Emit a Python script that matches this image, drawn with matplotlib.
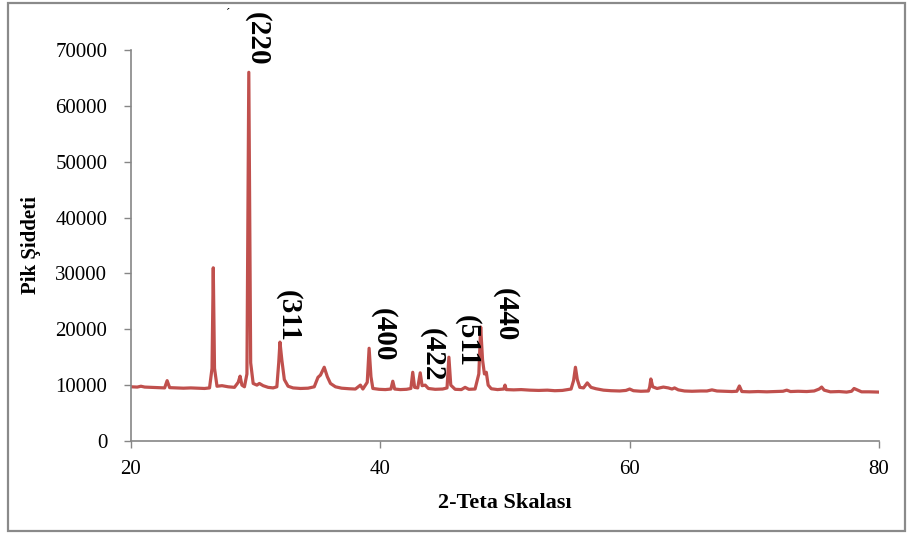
import matplotlib
matplotlib.use("Agg")
import matplotlib.pyplot as plt
from matplotlib.patches import Rectangle

# 2-theta scan (deg) and intensity
two_theta = [
    20.0, 20.5, 20.8, 21.1, 21.6, 22.2, 22.7, 22.9, 23.1, 23.6, 24.2, 24.8,
    25.3, 25.9, 26.3, 26.5, 26.6, 26.7, 26.9, 27.3, 27.8, 28.3, 28.6, 28.75,
    28.9, 29.1, 29.3, 29.45, 29.6, 29.8, 30.1, 30.3, 30.6, 31.0, 31.4, 31.7,
    31.85, 31.95, 32.1, 32.3, 32.6, 33.0, 33.6, 34.2, 34.7, 35.0, 35.2, 35.5,
    35.75, 36.0, 36.4, 36.9, 37.5, 38.0, 38.4, 38.6, 38.95, 39.1, 39.25, 39.4,
    39.9, 40.4, 40.85, 41.0, 41.15, 41.6, 42.1, 42.45, 42.6, 42.75, 43.0, 43.2,
    43.35, 43.6, 43.85, 44.4, 45.0, 45.35, 45.5, 45.65, 46.0, 46.5, 46.8, 47.1,
    47.6, 47.9, 48.05, 48.2, 48.35, 48.5, 48.65, 48.9, 49.4, 49.9, 50.0, 50.1,
    50.7, 51.3, 52.0, 52.7, 53.4, 54.0, 54.6, 55.0, 55.3, 55.5, 55.65, 55.8,
    56.0, 56.3, 56.6, 56.9, 57.3, 57.9, 58.5, 59.2, 59.7, 60.0, 60.3, 60.9,
    61.5, 61.6, 61.7, 61.85, 62.2, 62.7, 63.1, 63.4, 63.6, 63.9, 64.4, 65.0,
    65.7, 66.2, 66.6, 67.0, 67.6, 68.2, 68.6, 68.8, 69.0, 69.6, 70.3, 71.0,
    71.7, 72.3, 72.6, 72.9, 73.5, 74.2, 74.8, 75.2, 75.4, 75.6, 76.1, 76.8,
    77.4, 77.8, 78.0, 78.6, 79.2, 80.0,
]
intensity = [
    9700, 9650, 9800, 9650, 9600, 9550, 9500, 10800, 9550, 9500, 9450, 9500,
    9450, 9400, 9500, 13000, 31000, 13000, 9800, 9900, 9700, 9600, 10500, 11600,
    10000, 9700, 12000, 66000, 14000, 10300, 10000, 10300, 9900, 9600, 9500, 9700,
    14000, 17700, 14500, 11000, 9800, 9500, 9400, 9450, 9700, 11400, 11800, 13200,
    11500, 10300, 9700, 9450, 9350, 9300, 10000, 9300, 10500, 16600, 11500, 9400,
    9250, 9200, 9300, 10700, 9300, 9200, 9250, 9400, 12300, 9600, 9500, 12200,
    9900, 10000, 9400, 9250, 9300, 9500, 15000, 10000, 9250, 9200, 9600, 9250,
    9300, 12000, 20400, 14500, 12000, 12300, 10000, 9350, 9200, 9300, 10000, 9200,
    9150, 9200, 9100, 9050, 9100, 9000, 9050, 9200, 9300, 10800, 13200, 11000,
    9600, 9500, 10400, 9600, 9350, 9100, 9000, 8950, 9050, 9300, 9000, 8900,
    8950, 9600, 11100, 9700, 9400, 9650, 9500, 9300, 9500, 9150, 8950, 8900,
    8950, 8950, 9150, 8950, 8900, 8850, 8900, 9850, 8850, 8800, 8850, 8800,
    8850, 8900, 9100, 8850, 8900, 8850, 8950, 9300, 9650, 9100, 8800, 8850,
    8750, 8900, 9400, 8800, 8800, 8750,
]

# Miller-index labels: (text, x, top of label in data units)
hkl_labels = ["(220", "(311", "(400", "(422", "(511", "(440"]
hkl_x = [30.1, 32.6, 40.2, 44.2, 46.95, 50.0]
hkl_top = [76800, 27000, 23800, 20200, 22550, 27400]

y_ticks = [0, 10000, 20000, 30000, 40000, 50000, 60000, 70000]
x_ticks = [20, 40, 60, 80]

SERIF = "Liberation Serif"
LINE = "#C0504D"
AXIS = "#868686"

fig = plt.figure(figsize=(9.09, 5.34), dpi=100)
ax = fig.add_axes([0.1441, 0.1742, 0.8229, 0.7322])

ax.plot(two_theta, intensity, color=LINE, lw=2.3, solid_joinstyle="round")

ax.set_xlim(20, 80)
ax.set_ylim(0, 70000)
ax.set_xticks(x_ticks)
ax.set_yticks(y_ticks)
ax.set_xticklabels([str(v) for v in x_ticks], family=SERIF, fontsize=15)
ax.set_yticklabels([str(v) for v in y_ticks], family=SERIF, fontsize=15)
ax.tick_params(axis="both", direction="out", length=5, width=1, color=AXIS)
ax.tick_params(axis="y", pad=12)
ax.tick_params(axis="x", pad=9)
for side in ("top", "right"):
    ax.spines[side].set_visible(False)
for side in ("left", "bottom"):
    ax.spines[side].set_color(AXIS)
    ax.spines[side].set_linewidth(1.2)

ax.set_xlabel("2-Teta Skalası", family=SERIF, fontweight="bold", fontsize=16, labelpad=10)
ax.set_ylabel("Pik Şiddeti", family=SERIF, fontweight="bold", fontsize=15, labelpad=10)

for label, x, top in zip(hkl_labels, hkl_x, hkl_top):
    ax.text(x, top, label, rotation=270, ha="center", va="top", family=SERIF,
            fontweight="bold", fontsize=21, clip_on=False)
ax.text(27.8, 77500, "´", ha="center", va="top", family=SERIF, fontsize=9, clip_on=False)

# outer frame around the chart
fig.patches.append(Rectangle((8 / 909, 3 / 534), 897 / 909, 528 / 534,
                             transform=fig.transFigure, fill=False,
                             edgecolor="#8a8a8a", lw=1.6))

fig.savefig("out.png", dpi=100)
